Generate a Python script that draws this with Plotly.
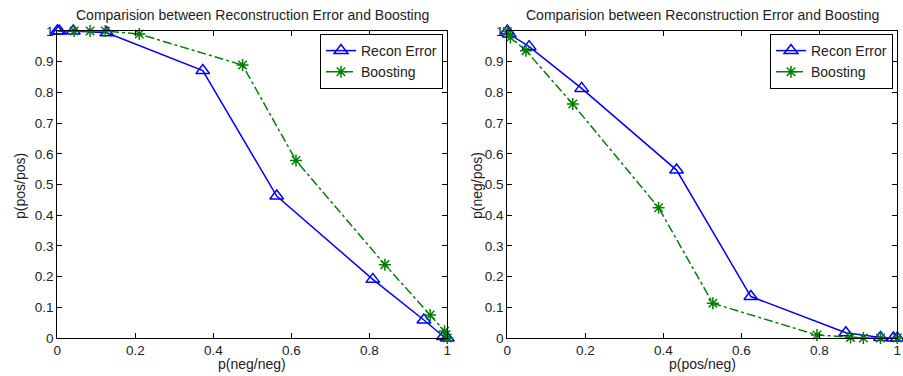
import plotly.graph_objects as go

# ---- data ----
left_recon_x = [0.0, 0.005, 0.041, 0.127, 0.373, 0.5625, 0.809, 0.940, 0.990, 1.0]
left_recon_y = [1.0, 1.0, 1.0, 0.994, 0.871, 0.4625, 0.191, 0.0586, 0.005, 0.0]
left_boost_x = [0.043, 0.084, 0.123, 0.210, 0.475, 0.612, 0.840, 0.956, 0.993, 1.0]
left_boost_y = [1.0, 1.0, 1.0, 0.990, 0.889, 0.578, 0.239, 0.075, 0.022, 0.0]

right_recon_x = [0.0, 0.005, 0.056, 0.1906, 0.434, 0.6245, 0.868, 0.957, 0.99, 1.0]
right_recon_y = [1.0, 0.99, 0.949, 0.813, 0.547, 0.135, 0.017, 0.002, 0.0, 0.0]
right_boost_x = [0.0, 0.008, 0.048, 0.168, 0.388, 0.527, 0.794, 0.880, 0.913, 0.957, 1.0]
right_boost_y = [0.998, 0.979, 0.936, 0.762, 0.4245, 0.113, 0.0098, 0.002, 0.0, 0.0, 0.0]

title_text = "Comparision between Reconstruction Error and Boosting"
series_names = ["Recon Error", "Boosting"]
left_xlabel, left_ylabel = "p(neg/neg)", "p(pos/pos)"
right_xlabel, right_ylabel = "p(pos/neg)", "p(neg/pos)"
xticks = [0, 0.2, 0.4, 0.6, 0.8, 1]
xticklabels = ["0", "0.2", "0.4", "0.6", "0.8", "1"]
yticks = [0, 0.1, 0.2, 0.3, 0.4, 0.5, 0.6, 0.7, 0.8, 0.9, 1]
yticklabels = ["0", "0.1", "0.2", "0.3", "0.4", "0.5", "0.6", "0.7", "0.8", "0.9", "1"]

BLUE = "#0000ff"
GREEN = "#008000"
FONT = "Liberation Sans, Arial, sans-serif"
TXT = "#222222"
W, H = 903, 376

fig = go.Figure()

def add_pair(rx, ry, bx, by, xa, ya, legend):
    fig.add_trace(go.Scatter(
        x=rx, y=ry, name=series_names[0], mode="lines+markers",
        line=dict(color=BLUE, width=1.5),
        marker=dict(symbol="triangle-up-open", size=12, color=BLUE, line=dict(width=1.5, color=BLUE)),
        xaxis=xa, yaxis=ya, legend=legend, cliponaxis=False))
    fig.add_trace(go.Scatter(
        x=bx, y=by, name=series_names[1], mode="lines+markers",
        line=dict(color=GREEN, width=1.5, dash="dashdot"),
        marker=dict(symbol="asterisk-open", size=10, color=GREEN, line=dict(width=1.5, color=GREEN)),
        xaxis=xa, yaxis=ya, legend=legend, cliponaxis=False))

add_pair(left_recon_x, left_recon_y, left_boost_x, left_boost_y, "x", "y", "legend")
add_pair(right_recon_x, right_recon_y, right_boost_x, right_boost_y, "x2", "y2", "legend2")

ax_common = dict(range=[0, 1], showgrid=False, zeroline=False, showline=True,
                 linecolor="black", linewidth=1, mirror="ticks", ticks="inside",
                 ticklen=5, tickcolor="black", automargin=False,
                 tickfont=dict(family=FONT, size=13.5, color=TXT))

y0 = 1 - 338 / H
y1 = 1 - 31 / H
leg_common = dict(y=1 - 34 / H, xanchor="right", yanchor="top",
                  bgcolor="white", bordercolor="black", borderwidth=1,
                  font=dict(family=FONT, size=14, color=TXT), tracegroupgap=0)
fig.update_layout(
    width=W, height=H, margin=dict(l=0, r=0, t=0, b=0, autoexpand=False),
    paper_bgcolor="white", plot_bgcolor="white",
    font=dict(family=FONT, color=TXT),
    xaxis=dict(domain=[57.3 / W, 447.3 / W], anchor="y", tickvals=xticks, ticktext=xticklabels, **ax_common),
    yaxis=dict(domain=[y0, y1], anchor="x", tickvals=yticks, ticktext=yticklabels, **ax_common),
    xaxis2=dict(domain=[507.3 / W, 897.3 / W], anchor="y2", tickvals=xticks, ticktext=xticklabels, **ax_common),
    yaxis2=dict(domain=[y0, y1], anchor="x2", tickvals=yticks, ticktext=yticklabels, **ax_common),
    legend=dict(x=443 / W, **leg_common),
    legend2=dict(x=893 / W, **leg_common),
    showlegend=True,
)

ann = []
for cx, xl, yl, ylx in [((57.3 + 447.3) / 2, left_xlabel, left_ylabel, 20),
                         ((507.3 + 897.3) / 2, right_xlabel, right_ylabel, 477)]:
    ann.append(dict(text=title_text, x=cx / W, y=1 - 15 / H, xref="paper", yref="paper",
                    showarrow=False, xanchor="center", yanchor="middle",
                    font=dict(family=FONT, size=14, color=TXT)))
    ann.append(dict(text=xl, x=cx / W, y=1 - 364 / H, xref="paper", yref="paper",
                    showarrow=False, xanchor="center", yanchor="middle",
                    font=dict(family=FONT, size=14, color=TXT)))
    ann.append(dict(text=yl, x=ylx / W, y=1 - 186 / H, xref="paper", yref="paper",
                    showarrow=False, xanchor="center", yanchor="middle", textangle=-90,
                    font=dict(family=FONT, size=14, color=TXT)))
fig.update_layout(annotations=ann)

fig.write_html("out.html", config={"displayModeBar": False},
               post_script="document.body.style.margin='0';document.body.style.overflow='hidden';")
